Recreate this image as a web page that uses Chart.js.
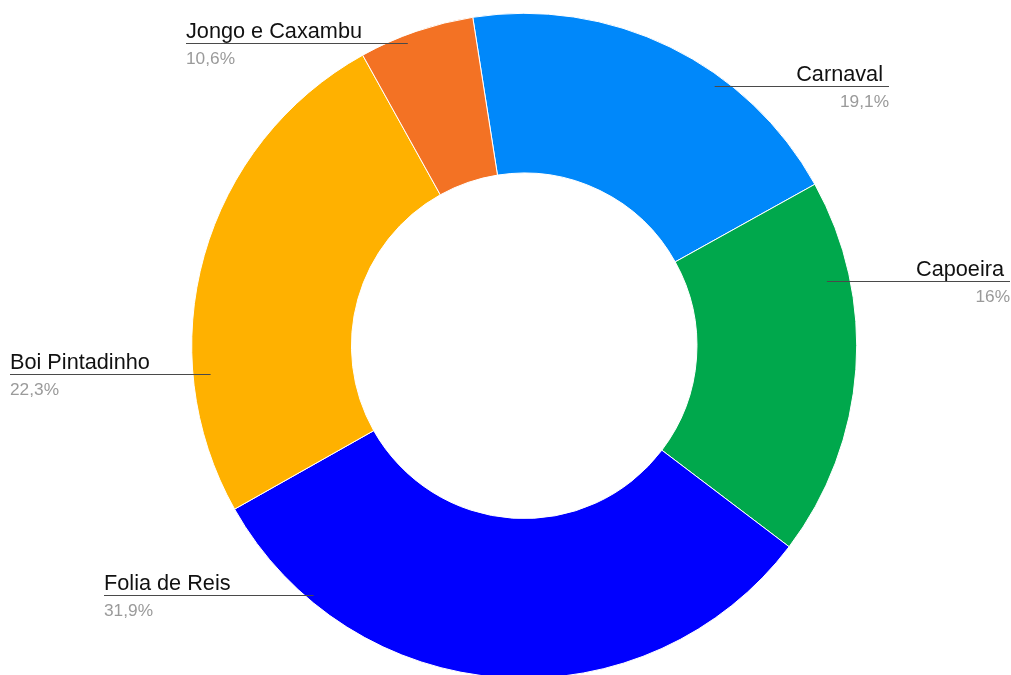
<!DOCTYPE html>
<html>
<head>
<meta charset="utf-8">
<script src="https://cdn.jsdelivr.net/npm/chart.js@4/dist/chart.umd.min.js"></script>
<style>
  html, body { margin: 0; padding: 0; background: #fff; overflow: hidden; }
  #wrap { width: 1011px; height: 675px; overflow: hidden; }
</style>
</head>
<body>
<div id="wrap"><canvas id="chart" width="1011" height="692"></canvas></div>
<script>
// slices as they are drawn, clockwise from the Carnaval edge
const categories = ['Carnaval', 'Capoeira', 'Folia de Reis', 'Boi Pintadinho', 'Jongo e Caxambu'];
const sliceValues = [19.4, 18.4, 31.5, 25.1, 5.6];
const percentLabels = ['19,1%', '16%', '31,9%', '22,3%', '10,6%'];
const sliceColors = ['#0088fa', '#00a84c', '#0000ff', '#ffb100', '#f37224'];

// where each leader line leaves its slice (fraction of the arc, fraction of the radius)
// and where the label sits horizontally
const labelLayout = [
    { along: 0.647, r: 0.968, x: 889, side: 'right' },
    { along: 0.256, r: 0.931, x: 1010, side: 'right' },
    { along: 0.820, r: 0.982, x: 104, side: 'left' },
    { along: 0.268, r: 0.947, x: 10, side: 'left' },
    { along: 0.400, r: 0.977, x: 186, side: 'left' }
];

const leaderLabels = {
    id: 'leaderLabels',
    afterDraw(chart) {
        const ctx = chart.ctx;
        const arcs = chart.getDatasetMeta(0).data;
        ctx.save();
        arcs.forEach((arc, i) => {
            const lay = labelLayout[i];
            const a = arc.startAngle + (arc.endAngle - arc.startAngle) * lay.along;
            const R = arc.outerRadius * lay.r;
            const px = arc.x + R * Math.cos(a);
            const py = Math.round(arc.y + R * Math.sin(a)) + 0.5;

            ctx.strokeStyle = '#4a4a4a';
            ctx.lineWidth = 1;
            ctx.beginPath();
            ctx.moveTo(px, py);
            ctx.lineTo(lay.x, py);
            ctx.stroke();

            ctx.textBaseline = 'alphabetic';
            ctx.textAlign = lay.side === 'right' ? 'right' : 'left';
            ctx.fillStyle = '#111';
            ctx.font = '21.7px "Liberation Sans", Arial, sans-serif';
            const nx = lay.side === 'right' ? lay.x - 6 : lay.x;
            ctx.fillText(categories[i], nx, py - 6);

            ctx.fillStyle = '#9a9a9a';
            ctx.font = '17.3px "Liberation Sans", Arial, sans-serif';
            ctx.fillText(percentLabels[i], lay.x, py + 20);
        });
        ctx.restore();
    }
};

const ctx = document.getElementById('chart').getContext('2d');
const myChart = new Chart(ctx, {
    type: 'doughnut',
    data: {
        labels: categories,
        datasets: [{
            data: sliceValues,
            backgroundColor: sliceColors,
            borderColor: '#ffffff',
            borderWidth: 1
        }]
    },
    options: {
        responsive: false,
        animation: false,
        rotation: -8.9,
        radius: 332.5,
        cutout: 172.5,
        layout: {
            padding: { left: 191.7, right: 154.3, top: 13.3, bottom: 13.7 }
        },
        plugins: {
            legend: { display: false },
            tooltip: { enabled: false }
        }
    },
    plugins: [leaderLabels]
});
</script>
</body>
</html>
